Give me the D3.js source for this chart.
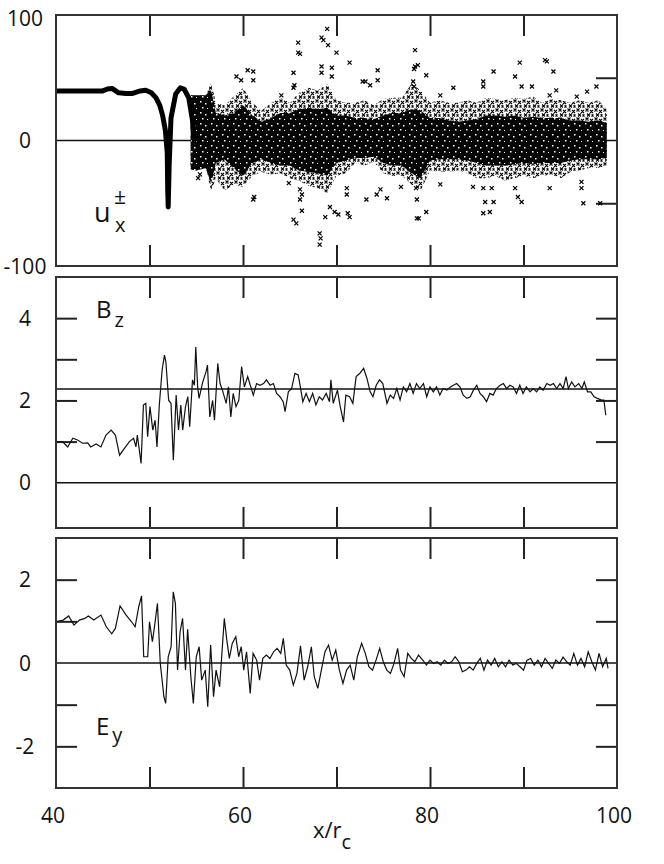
<!DOCTYPE html>
<html>
<head>
<meta charset="utf-8">
<script src="https://cdn.jsdelivr.net/npm/d3@7"></script>
<style>
  body { margin: 0; background: #fff; }
  svg { display: block; font-family: "Open Sans", sans-serif; }
</style>
</head>
<body>
<div id="chart"></div>
<script>
const xDomain = [40, 100];
const xTickVals = [50, 60, 70, 80, 90];
const xLabelVals = [40, 60, 80, 100];

// top panel: coherent part of u_x (before the shock)
const uxLineX = [40, 42, 44, 45, 45.5, 46, 46.7, 47.5, 48.2, 49, 49.6, 50.2, 50.7, 51.1, 51.4, 51.7, 51.9, 51.95, 52.0, 52.1, 52.3, 52.8, 53.3, 53.7, 54.2, 54.6, 54.8];
const uxLineY = [39.5, 39.5, 39.5, 39.5, 41, 41.5, 38, 37.5, 37.5, 39.5, 40, 38, 34, 28, 20, 8, -10, -40, -53, -20, 18, 37, 42, 41, 34, 16, -1];

// top panel: scattered particles, outer (sparse) and inner (dense) envelope
const bandX = [54.4, 55, 56, 56.6, 57.1, 58, 59, 60, 61, 62, 63, 64, 65, 66, 67, 68, 69, 70, 71, 72, 73, 74, 75, 76, 77, 78, 79, 80, 81, 82, 83, 84, 85, 86, 87, 88, 89, 90, 91, 92, 93, 94, 95, 96, 97, 98, 98.9];
const bandTop = [36, 36, 36, 46, 30, 28, 35, 42, 30, 24, 30, 34, 30, 38, 42, 40, 45, 32, 30, 30, 32, 28, 33, 34, 34, 45, 40, 30, 32, 30, 30, 32, 30, 34, 33, 32, 34, 33, 35, 30, 33, 32, 30, 32, 30, 32, 25];
const bandBot = [-23, -24, -22, -40, -30, -40, -35, -37, -28, -25, -27, -26, -30, -32, -36, -38, -42, -28, -26, -18, -20, -17, -26, -28, -28, -35, -40, -24, -25, -25, -24, -26, -30, -30, -28, -32, -30, -28, -30, -28, -27, -30, -25, -24, -22, -22, -20];
const coreTop = [36, 36, 36, 40, 22, 20, 22, 28, 20, 15, 18, 22, 22, 25, 26, 25, 26, 20, 20, 18, 18, 17, 20, 22, 22, 25, 24, 18, 18, 16, 15, 16, 17, 20, 20, 19, 20, 18, 19, 18, 18, 18, 16, 16, 15, 16, 14];
const coreBot = [-23, -24, -22, -34, -18, -15, -22, -28, -18, -15, -18, -20, -20, -24, -25, -26, -28, -18, -16, -14, -14, -13, -18, -20, -20, -26, -30, -16, -15, -15, -15, -16, -18, -20, -20, -20, -19, -18, -19, -18, -18, -18, -16, -15, -15, -15, -14];

// top panel: isolated particles outside the band
const outX = [65.9, 65.9, 68.4, 68.6, 65.4, 59.3, 61.1, 65.5, 61.1, 65.4, 66.1, 68.2, 68.3, 55.4, 69.0, 66.1, 69.1, 70.0, 71.4, 74.4, 74.4, 73.6, 73.1, 72.8, 78.4, 78.4, 78.7, 78.3, 79.6, 78.2, 78.3, 81.1, 68.4, 68.4, 69.5, 69.5, 65.4, 64.1, 61.1, 59.8, 60.5,
  66.3, 66.3, 65.7, 68.2, 69.3, 70.2, 71.4, 68.8, 69.8, 71.2, 73.2, 74.3, 74.7, 75.4, 76.9, 78.5, 78.6, 78.6, 78.8, 79.6, 64.9, 66.1, 71.1, 71.1, 81.1, 55.2, 61.2,
  89.6, 92.5, 92.3, 93.2, 86.8, 89.1, 89.8, 90.9, 85.7, 85.7, 82.5, 97.8, 96.8, 95.7, 92.8, 93.5,
  84.6, 85.7, 86.6, 85.9, 86.8, 85.7, 86.4, 89.4, 89.8, 89.1, 92.8, 96.2, 96.2, 96.4, 98.2];
const outY = [78, 70, 82, 80, 54, 51, 55, 44, -47, -63, -47, -74, -78, -27, 89, 69, 76, 70, 62, 56, 48, 44, 47, 47, 72, 59, 60, 57, 52, 47, 43, 36, 59, 54, 58, 51, 42, 36, 48, 48, 56,
  -43, -56, -66, -83, -53, -59, -61, -61, -57, -58, -47, -43, -39, -46, -37, -38, -47, -62, -62, -57, -34, -39, -38, -43, -35, -30, -45,
  62, 63, 64, 55, 55, 51, 43, 43, 43, 47, 42, 43, 39, 35, 36, 40,
  -37, -38, -38, -49, -49, -58, -57, -45, -49, -38, -38, -33, -38, -50, -50];

// middle panel: B_z
const bzX = [40, 40.7, 41.25, 41.8, 42.3, 42.85, 43.4, 43.7, 44.3, 44.8, 45.35, 45.9, 46.35, 46.8, 47.3, 47.85, 48.3, 48.55, 48.7, 49.1, 49.35, 49.6, 49.8, 50.05, 50.35, 50.6, 50.8, 51.05, 51.35, 51.6, 51.75, 52.05, 52.3, 52.55, 52.85, 53.1, 53.35, 53.55, 53.85, 54.1, 54.3, 54.6, 54.8, 54.95, 55.15, 55.3, 55.7, 56.05, 56.2, 56.45, 56.75, 56.95, 57.3, 57.55, 57.8, 58.2, 58.45, 58.7, 58.95, 59.25, 59.55, 59.85, 60.15, 60.5,
  61.1, 61.45, 61.8, 62.2, 62.5, 62.9, 63.25, 63.6, 63.95, 64.3, 64.5, 64.85, 65.2, 65.55, 65.9, 66.1, 66.4, 66.75, 67.1, 67.45, 67.8, 68.15, 68.5, 68.9, 69.25, 69.4, 69.65, 70.1, 70.4, 70.75, 71.0, 71.4, 71.75, 72.1, 72.5, 72.9, 73.25, 73.6, 73.9, 74.25, 74.6, 74.95, 75.4, 75.75, 76.1, 76.45, 76.8, 77.15, 77.5, 77.85, 78.2, 78.55, 78.9, 79.3, 79.65, 80.0, 80.35, 80.7, 81.05, 81.4, 81.8, 82.15, 82.5, 82.85, 83.2, 83.55, 83.95, 84.3, 84.65, 85.0, 85.35, 85.7, 86.05, 86.4, 86.75, 87.1, 87.5, 87.85, 88.2, 88.55, 88.9, 89.25, 89.6, 89.95, 90.3, 90.7, 91.05, 91.4, 91.75, 92.1, 92.5, 92.85, 93.2, 93.55, 93.9, 94.25, 94.55, 94.8, 95.15, 95.5, 95.9, 96.25, 96.5, 96.85, 97.2, 97.55, 97.9, 98.35, 98.6, 98.8];
const bzY = [1.0, 1.0, 0.87, 1.08, 1.04, 0.96, 0.97, 0.87, 0.94, 0.87, 1.16, 1.28, 1.16, 0.67, 0.83, 1.0, 1.08, 0.87, 1.16, 0.47, 1.89, 1.93, 1.12, 1.85, 1.28, 1.52, 0.87, 1.89, 2.74, 3.1, 2.94, 2.0, 1.93, 0.55, 2.13, 1.28, 1.89, 1.28, 1.85, 2.09, 1.36, 2.5, 2.37, 3.3, 2.33, 2.05, 2.45, 2.7, 2.86, 1.6, 2.0, 1.52, 2.9, 2.41, 2.25, 1.93, 2.33, 1.6, 2.17, 1.85, 2.0, 2.82, 2.33, 2.58,
  2.13, 2.41, 2.37, 2.41, 2.5, 2.37, 2.41, 2.17, 2.09, 1.97, 1.73, 2.21, 2.29, 2.66, 2.62, 2.37, 1.97, 2.17, 1.97, 2.17, 1.89, 2.09, 2.01, 2.17, 1.97, 2.5, 1.93, 2.25, 1.85, 1.48, 2.13, 2.09, 1.93, 2.58, 2.66, 2.78, 2.54, 2.21, 2.09, 2.37, 2.5, 2.41, 1.93, 2.13, 2.05, 2.29, 2.01, 2.33, 2.21, 2.41, 2.17, 2.41, 2.29, 2.41, 2.09, 2.33, 2.21, 2.33, 2.13, 2.29, 2.25, 2.32, 2.37, 2.41, 2.33, 2.13, 2.05, 2.09, 2.25, 2.37, 2.17, 2.09, 1.97, 2.17, 2.13, 2.29, 2.37, 2.41, 2.29, 2.37, 2.33, 2.17, 2.37, 2.17, 2.33, 2.21, 2.29, 2.21, 2.33, 2.25, 2.41, 2.37, 2.41, 2.29, 2.41, 2.29, 2.58, 2.29, 2.45, 2.33, 2.41, 2.29, 2.45, 2.21, 2.21, 2.09, 2.05, 2.01, 2.01, 1.64];
const bzRef = 2.28;

// bottom panel: E_y
const eyX = [40.0, 40.77, 41.35, 41.92, 42.5, 43.08, 43.46, 44.04, 44.81, 45.38, 45.96, 46.35, 46.85, 47.5, 48.08, 48.46, 48.85, 49.15, 49.38, 49.81, 50.0, 50.31, 50.58, 50.85, 51.15, 51.54, 51.73, 52.0, 52.31, 52.54, 52.77, 53.0, 53.27, 53.54, 53.85, 54.08, 54.42, 54.69, 55.0, 55.31, 55.58, 55.96, 56.23, 56.54, 56.85, 57.12, 57.5, 57.77, 58.0, 58.27, 58.54, 58.85, 59.23, 59.54, 59.81, 60.08, 60.38, 60.77, 61.08, 61.46, 61.77, 62.12, 62.5, 62.88, 63.27, 63.65, 64.04, 64.31, 64.62, 65.0, 65.38, 65.77, 66.15, 66.54, 66.92, 67.31, 67.62, 68.0, 68.38, 68.77, 69.15, 69.54, 69.92, 70.31, 70.69, 71.08, 71.46, 71.85, 72.23, 72.69, 73.08, 73.46, 73.85, 74.23, 74.62, 75.0, 75.38, 75.77, 76.15, 76.54, 76.85, 77.23, 77.62, 78.0, 78.38, 78.77, 79.23, 79.62, 80.0, 80.38, 80.77, 81.15, 81.54, 81.92, 82.31, 82.69, 83.08, 83.46, 83.85, 84.23, 84.62, 85.0, 85.38, 85.77, 86.15, 86.54, 86.92, 87.31, 87.69, 88.08, 88.46, 88.85, 89.23, 89.62, 90.0, 90.38, 90.77, 91.15, 91.54, 91.92, 92.31, 92.69, 93.08, 93.46, 93.85, 94.23, 94.62, 95.0, 95.38, 95.77, 96.15, 96.54, 96.92, 97.31, 97.69, 98.08, 98.46, 98.85, 99.04];
const eyY = [0.99, 1.03, 1.13, 0.91, 1.03, 1.07, 1.13, 1.03, 1.15, 0.87, 0.70, 0.83, 1.37, 1.15, 0.99, 0.87, 1.35, 1.61, 0.15, 0.15, 0.99, 0.51, 0.95, 1.43, 0, -0.81, -0.97, 0.15, 0.39, 1.71, 1.43, -0.17, 0.75, 1.07, -0.17, 0.81, -0.33, -0.97, 0.15, 0.39, -0.41, -0.17, -1.05, 0.43, -0.81, -0.17, -0.57, 0.31, 1.07, 0.55, 0.11, 0.47, 0.63, 0.15, 0.39, -0.17, 0.27, -0.73, 0.23, 0.07, -0.41, 0.11, 0.19, 0.11, 0.27, 0.35, 0.23, 0.59, -0.05, -0.17, -0.53, -0.25, 0.41, -0.41, -0.09, 0.39, -0.33, -0.61, -0.17, 0.27, 0.43, 0.07, 0.31, -0.17, -0.49, -0.17, -0.05, -0.41, 0.15, 0.47, 0.23, -0.09, -0.17, 0.07, 0.35, 0.03, -0.17, -0.25, -0.01, 0.35, -0.17, -0.33, 0.23, 0.11, 0.03, 0.19, 0.07, -0.05, 0.07, -0.01,
  0.03, -0.05, 0.07, -0.01, 0.03, 0.15, 0.03, -0.21, -0.17, -0.09, -0.17, -0.01, 0.11, -0.17, 0.07, -0.05, 0.11, -0.09, 0.03, -0.09, 0.07, -0.05, -0.01, -0.09, -0.17, 0.07, 0.11, -0.05, 0.07, -0.09, 0.11, -0.01, -0.13, 0.07, -0.01, 0.14, 0.03, -0.05, 0.23, -0.05, 0.11, -0.09, 0.27, 0.03, -0.17, 0.23, -0.09, 0.11, -0.13];

const panels = [
  {top: 15, bottom: 266, domain: [-100, 100], leftTicks: [], rightTicks: [-50, 50], labels: [100, 0, -100]},
  {top: 277, bottom: 528, domain: [-1.1, 5], leftTicks: [1, 2, 3, 4], rightTicks: [1, 2, 3, 4], labels: [4, 2, 0]},
  {top: 538, bottom: 788, domain: [-3, 3], leftTicks: [-2, -1, 1, 2], rightTicks: [-2, -1, 1, 2], labels: [2, 0, -2]}
];

const width = 664;
const height = 864;
const left = 56;
const right = 617;
const tickLen = 21;

const svg = d3.select("#chart")
  .append("svg")
    .attr("width", width)
    .attr("height", height);

const x = d3.scaleLinear()
  .domain(xDomain)
  .range([left, right]);

function styleAxis(g) {
  g.select(".domain").remove();
  g.selectAll(".tick line").attr("stroke", "#222").attr("stroke-width", 2);
}

panels.forEach(function(p) {
  p.y = d3.scaleLinear().domain(p.domain).range([p.bottom, p.top]);

  svg.append("g")
    .attr("transform", "translate(0," + p.top + ")")
    .call(d3.axisTop(x).tickValues(xTickVals).tickSize(-tickLen).tickFormat(""))
    .call(styleAxis);

  svg.append("g")
    .attr("transform", "translate(0," + p.bottom + ")")
    .call(d3.axisBottom(x).tickValues(xTickVals).tickSize(-tickLen).tickFormat(""))
    .call(styleAxis);

  svg.append("g")
    .attr("transform", "translate(" + left + ",0)")
    .call(d3.axisLeft(p.y).tickValues(p.leftTicks).tickSize(-tickLen).tickFormat(""))
    .call(styleAxis);

  svg.append("g")
    .attr("transform", "translate(" + right + ",0)")
    .call(d3.axisRight(p.y).tickValues(p.rightTicks).tickSize(-tickLen).tickFormat(""))
    .call(styleAxis);

  // zero line
  svg.append("line")
    .attr("x1", left).attr("x2", right)
    .attr("y1", p.y(0)).attr("y2", p.y(0))
    .attr("stroke", "#111").attr("stroke-width", 1.5);

  // y labels
  svg.selectAll(null)
    .data(p.labels)
    .enter()
    .append("text")
      .attr("x", 25)
      .attr("y", d => Math.max(p.y(d), p.top + 3) + 7.5)
      .attr("text-anchor", "middle")
      .attr("font-size", 21)
      .attr("fill", "#111")
      .text(d => String(d));
});

// ---- top panel
const p1 = panels[0];
const bandData = d3.range(bandX.length).map(i => ({x: bandX[i], t: bandTop[i], b: bandBot[i], ct: coreTop[i], cb: coreBot[i]}));

// irregular x-mark textures for the particle cloud
const defs = svg.append("defs");
const sparse = defs.append("pattern")
  .attr("id", "sparse")
  .attr("width", 9).attr("height", 9)
  .attr("patternUnits", "userSpaceOnUse");
sparse.append("path")
  .attr("d", "M0.5,0.5L3.5,3.5M0.5,3.5L3.5,0.5 M5,2L8,5M5,5L8,2 M2,5.5L5,8.5M2,8.5L5,5.5 M6.5,6.5L8.5,8.5M6.5,8.5L8.5,6.5")
  .attr("stroke", "#000").attr("stroke-width", 1.1);

const dense = defs.append("pattern")
  .attr("id", "dense")
  .attr("width", 11).attr("height", 11)
  .attr("patternUnits", "userSpaceOnUse");
dense.append("rect").attr("width", 11).attr("height", 11).attr("fill", "#050505");
dense.append("path")
  .attr("d", "M2,2h1.5v1.5h-1.5z M7,4h1.5v1.5h-1.5z M4,8h1.5v1.5h-1.5z M9,9h1v1h-1z")
  .attr("fill", "#fff");

svg.append("path")
  .datum(bandData)
  .attr("fill", "url(#sparse)")
  .attr("d", d3.area().x(d => x(d.x)).y0(d => p1.y(d.b)).y1(d => p1.y(d.t)));

svg.append("path")
  .datum(bandData)
  .attr("fill", "url(#dense)")
  .attr("d", d3.area().x(d => x(d.x)).y0(d => p1.y(d.cb)).y1(d => p1.y(d.ct)));

svg.selectAll(null)
  .data(d3.zip(outX, outY))
  .enter()
  .append("path")
    .attr("transform", d => "translate(" + x(d[0]) + "," + p1.y(d[1]) + ")")
    .attr("d", "M-2,-2L2,2M-2,2L2,-2")
    .attr("stroke", "#000")
    .attr("stroke-width", 1.2);

svg.append("path")
  .datum(d3.zip(uxLineX, uxLineY))
  .attr("fill", "none")
  .attr("stroke", "#000")
  .attr("stroke-width", 5)
  .attr("stroke-linejoin", "round")
  .attr("d", d3.line().x(d => x(d[0])).y(d => p1.y(d[1])));

// ---- middle panel
const p2 = panels[1];
svg.append("line")
  .attr("x1", left).attr("x2", right)
  .attr("y1", p2.y(bzRef)).attr("y2", p2.y(bzRef))
  .attr("stroke", "#111").attr("stroke-width", 1.5);

svg.append("path")
  .datum(d3.zip(bzX, bzY))
  .attr("fill", "none")
  .attr("stroke", "#111")
  .attr("stroke-width", 1.2)
  .attr("d", d3.line().x(d => x(d[0])).y(d => p2.y(d[1])));

// ---- bottom panel
const p3 = panels[2];
svg.append("path")
  .datum(d3.zip(eyX, eyY))
  .attr("fill", "none")
  .attr("stroke", "#111")
  .attr("stroke-width", 1.2)
  .attr("d", d3.line().x(d => x(d[0])).y(d => p3.y(d[1])));

// frames on top
panels.forEach(function(p) {
  svg.append("rect")
    .attr("x", left).attr("y", p.top)
    .attr("width", right - left).attr("height", p.bottom - p.top)
    .attr("fill", "none")
    .attr("stroke", "#333")
    .attr("stroke-width", 2);
});

// x labels
svg.selectAll(null)
  .data(xLabelVals)
  .enter()
  .append("text")
    .attr("x", d => x(d) - 3)
    .attr("y", 823)
    .attr("text-anchor", "middle")
    .attr("font-size", 21)
    .attr("fill", "#111")
    .text(d => d);

const xTitle = svg.append("text")
  .attr("x", 313)
  .attr("y", 838)
  .attr("font-size", 22)
  .attr("fill", "#111");
xTitle.append("tspan").text("x/r");
xTitle.append("tspan").attr("dy", 11).attr("font-size", 20).text("c");

// panel labels
svg.append("text").attr("x", 94).attr("y", 222).attr("font-size", 27).attr("fill", "#111").text("u");
svg.append("text").attr("x", 114).attr("y", 204).attr("font-size", 21).attr("fill", "#111").text("±");
svg.append("text").attr("x", 115).attr("y", 232).attr("font-size", 20).attr("fill", "#111").text("x");

const bLabel = svg.append("text").attr("x", 96).attr("y", 318).attr("font-size", 24).attr("fill", "#111");
bLabel.append("tspan").text("B");
bLabel.append("tspan").attr("dx", 3).attr("dy", 9).attr("font-size", 20).text("z");

const eLabel = svg.append("text").attr("x", 96).attr("y", 735).attr("font-size", 24).attr("fill", "#111");
eLabel.append("tspan").text("E");
eLabel.append("tspan").attr("dx", 3).attr("dy", 7).attr("font-size", 20).text("y");
</script>
</body>
</html>
